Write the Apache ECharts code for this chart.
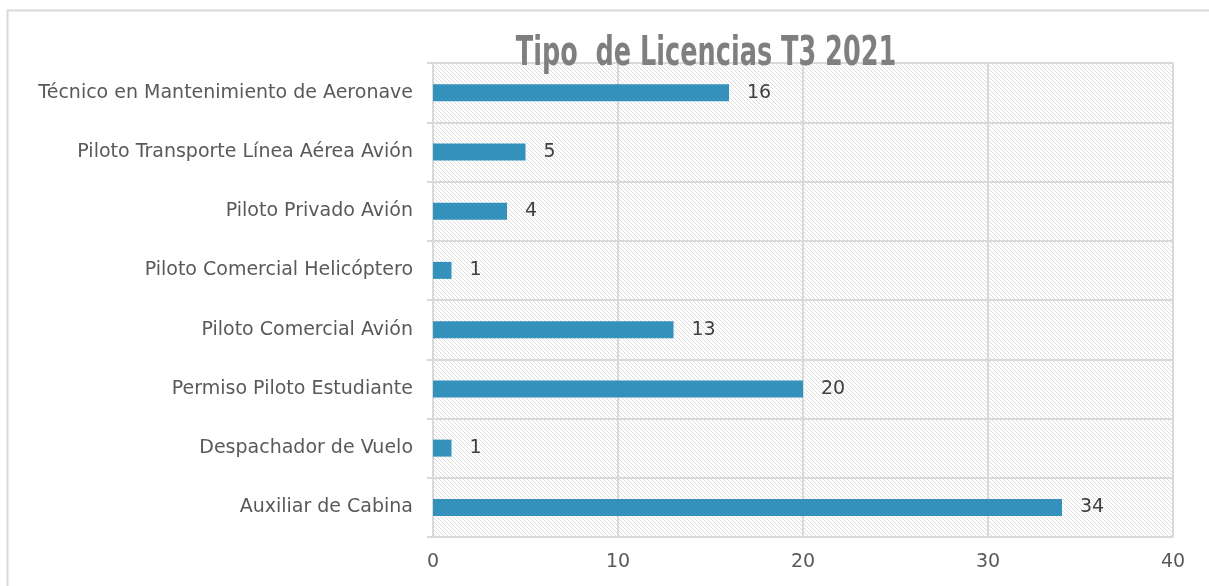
<!DOCTYPE html>
<html>
<head>
<meta charset="utf-8">
<script src="https://cdn.jsdelivr.net/npm/echarts@6/dist/echarts.min.js"></script>
<style>
  html, body { margin: 0; padding: 0; background: #fff; }
  #chart { width: 1209px; height: 586px; }
</style>
</head>
<body>
<div id="chart"></div>
<script>
// categories bottom -> top (category axis starts at the bottom)
const categories = [
  'Auxiliar de Cabina',
  'Despachador de Vuelo',
  'Permiso Piloto Estudiante',
  'Piloto Comercial Avión',
  'Piloto Comercial Helicóptero',
  'Piloto Privado Avión',
  'Piloto Transporte Línea Aérea Avión',
  'Técnico en Mantenimiento de Aeronave'
];
const values = [34, 1, 20, 13, 1, 4, 5, 16];
const xTicks = [0, 10, 20, 30, 40];
const titleText = 'Tipo  de Licencias T3 2021';

// diagonal hatch for the plot area
const hatch = document.createElement('canvas');
hatch.width = 4;
hatch.height = 4;
const hctx = hatch.getContext('2d');
hctx.fillStyle = '#ffffff';
hctx.fillRect(0, 0, 4, 4);
hctx.fillStyle = '#dedede';
for (let i = 0; i < 4; i++) hctx.fillRect(i, i, 1, 1);

const chart = echarts.init(document.getElementById('chart'));
chart.setOption({
  backgroundColor: '#ffffff',
  animation: false,
  graphic: [{
    type: 'rect',
    shape: { x: 7.5, y: 10.5, width: 1300, height: 700 },
    style: { fill: 'none', stroke: '#d9d9d9', lineWidth: 2 },
    z: -1
  }, {
    // condensed bold title, squeezed horizontally like the original
    type: 'text',
    x: 706,
    y: 55,
    scaleX: 0.71,
    z: 100,
    style: {
      text: titleText,
      x: 0,
      y: 0,
      align: 'center',
      verticalAlign: 'middle',
      textAlign: 'center',
      textVerticalAlign: 'middle',
      font: 'bold 40px "DejaVu Sans Condensed", "DejaVu Sans", sans-serif',
      fill: '#7f7f7f'
    }
  }],
  grid: {
    left: 433, top: 63, width: 740, height: 474,
    show: true,
    backgroundColor: { image: hatch, repeat: 'repeat' },
    borderWidth: 0
  },
  xAxis: {
    type: 'value',
    min: xTicks[0],
    max: xTicks[xTicks.length - 1],
    interval: 10,
    axisLine: { show: false },
    axisTick: { show: false },
    axisLabel: {
      margin: 16,
      fontFamily: 'DejaVu Sans',
      fontSize: 19,
      color: '#595959'
    },
    splitLine: { show: true, lineStyle: { color: '#d9d9d9', width: 2 } }
  },
  yAxis: {
    type: 'category',
    data: categories,
    axisLine: { show: true, lineStyle: { color: '#d9d9d9', width: 2 } },
    axisTick: { show: true, length: 6, lineStyle: { color: '#d9d9d9', width: 2 } },
    axisLabel: {
      margin: 20,
      fontFamily: 'DejaVu Sans',
      fontSize: 19,
      color: '#595959'
    },
    splitLine: { show: true, lineStyle: { color: '#d9d9d9', width: 2 } }
  },
  series: [{
    type: 'bar',
    data: values,
    barWidth: 17,
    itemStyle: { color: '#3391bb' },
    label: {
      show: true,
      position: 'right',
      distance: 18,
      fontFamily: 'DejaVu Sans',
      fontSize: 19,
      color: '#404040'
    }
  }]
});
</script>
</body>
</html>
